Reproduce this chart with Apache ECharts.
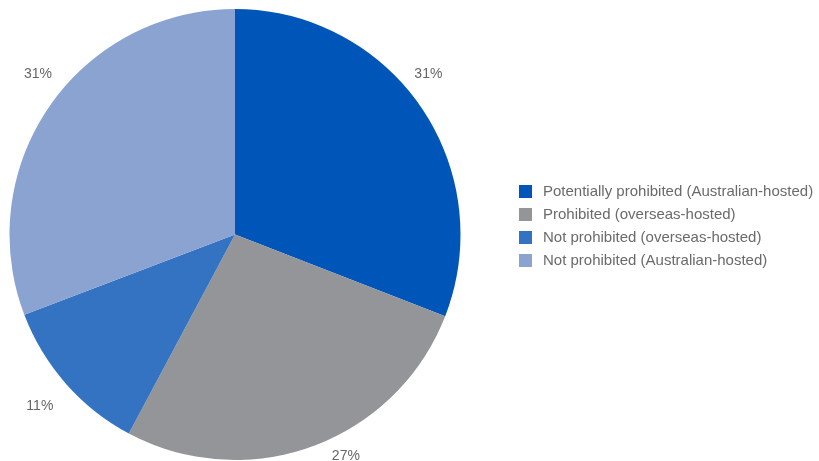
<!DOCTYPE html>
<html>
<head>
<meta charset="utf-8">
<script src="https://cdn.jsdelivr.net/npm/echarts@6/dist/echarts.min.js"></script>
<style>html,body{margin:0;padding:0;background:#fff}#c{width:819px;height:461px}</style>
</head>
<body>
<div id="c"></div>
<script>
const categories = [
  'Potentially prohibited (Australian-hosted)',
  'Prohibited (overseas-hosted)',
  'Not prohibited (overseas-hosted)',
  'Not prohibited (Australian-hosted)'
];
const values = [30.9, 26.9, 11.4, 30.8];
const colors = ['#0055b8', '#949599', '#3473c2', '#8ba3d1'];
// label nudges (style only, px)
const labelShift = [[-20, -27], [10, 1], [0, 16], [16, -27]];

const chart = echarts.init(document.getElementById('c'), null, {renderer: 'canvas'});
chart.setOption({
  animation: false,
  color: colors,
  legend: {
    orient: 'vertical',
    left: 514,
    top: 179,
    itemWidth: 13,
    itemHeight: 13,
    itemGap: 8,
    icon: 'rect',
    textStyle: {fontFamily: 'Liberation Sans, Arial, sans-serif', fontSize: 15, color: '#6a6a6a', lineHeight: 13, padding: [0,0,0,6]},
    data: categories
  },
  series: [{
    type: 'pie',
    center: [235, 234.5],
    radius: [0, 225.5],
    startAngle: 90,
    clockwise: true,
    percentPrecision: 0,
    avoidLabelOverlap: false,
    label: {
      show: true,
      position: 'outside',
      formatter: '{d}%',
      fontFamily: 'Liberation Sans, Arial, sans-serif',
      fontSize: 14,
      color: '#666'
    },
    labelLine: {show: false, length: 10, length2: 0},
    labelLayout: function (p) {
      const s = labelShift[p.dataIndex];
      return {dx: s[0], dy: s[1]};
    },
    emphasis: {disabled: true},
    data: categories.map((n, i) => ({name: n, value: values[i]}))
  }]
});
</script>
</body>
</html>
